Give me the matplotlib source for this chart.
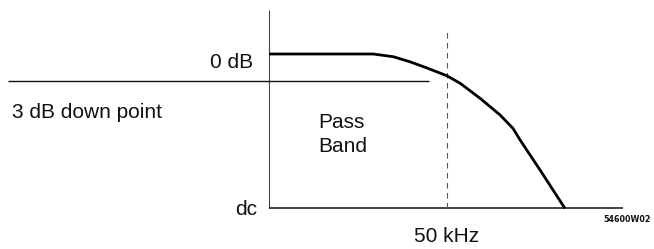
import matplotlib
matplotlib.use("Agg")
import matplotlib.pyplot as plt

# ---- data (frequency in kHz, level in dB) ----
curve_freq_khz = [0, 29.2, 34.8, 39.5, 44.3, 49.9, 53.6, 59.2, 64.8, 68.4, 70.4, 76.0, 83.0]
curve_level_db = [0, 0, -0.30, -0.87, -1.57, -2.45, -3.29, -4.98, -6.85, -8.35,
                  -9.65, -13.03, -17.35]
cutoff_khz = 50
down_3db = -3.0
floor_db = -17.35
axis_top_db = 4.95
cutoff_top_db = 2.9
freq_end_khz = 99.3
ref_line_start_khz = -73.2
ref_line_end_khz = 45
label_0db = "0 dB"
label_3db = "3 dB down point"
label_pass = "Pass\nBand"
label_dc = "dc"
label_cut = "50 kHz"
label_fig = "54600W02"

W, H, DPI = 6.54, 2.49, 100
fig = plt.figure(figsize=(W, H), dpi=DPI)
ax = fig.add_axes([0, 0, 1, 1])
ax.set_axis_off()

# pixel mapping: x0 at 269 px, 3.566 px/kHz; 0 dB at 54 px, 8.9 px/dB
px_per_khz = 3.566
px_per_db = 8.9
ax.set_xlim(-269 / px_per_khz, (654 - 269) / px_per_khz)
ax.set_ylim(-(249 - 54) / px_per_db, 54 / px_per_db)

fam = ["Liberation Sans", "DejaVu Sans"]
fs = 15
ink = "#111111"

# axes lines
ax.plot([0, 0], [floor_db, axis_top_db], color="#444444", lw=0.8, solid_capstyle="butt")
ax.plot([0, freq_end_khz], [floor_db, floor_db], color=ink, lw=1.1, solid_capstyle="butt")
# 3 dB reference line
ax.plot([ref_line_start_khz, ref_line_end_khz], [down_3db, down_3db], color=ink, lw=1.0,
        solid_capstyle="butt")
# cutoff dashed line
ax.plot([cutoff_khz, cutoff_khz], [floor_db, cutoff_top_db], color="#555555", lw=0.8,
        linestyle=(0, (5, 4)))
# response curve
ax.plot(curve_freq_khz, curve_level_db, color="black", lw=2.0, solid_joinstyle="round",
        solid_capstyle="butt")

def lab(s, xy, dx, dy, ha, va="center", size=fs, family=fam, **kw):
    ax.annotate(s, xy=xy, xytext=(dx, -dy), textcoords="offset pixels",
                ha=ha, va=va, fontsize=size, family=family, color=ink, **kw)

lab(label_0db, (0, 0), -16, 9, "right")
lab(label_3db, (ref_line_start_khz, down_3db), 4, 32, "left")
lab(label_pass, (0, down_3db), 49, 54, "left", linespacing=1.3)
lab(label_dc, (0, floor_db), -12, 1, "right")
lab(label_cut, (cutoff_khz, floor_db), -1, 28, "center")
lab(label_fig, (freq_end_khz, floor_db), -20, 11, "left", size=5.8,
    family=["DejaVu Sans"], weight="bold")

fig.savefig("out.png", dpi=DPI)
